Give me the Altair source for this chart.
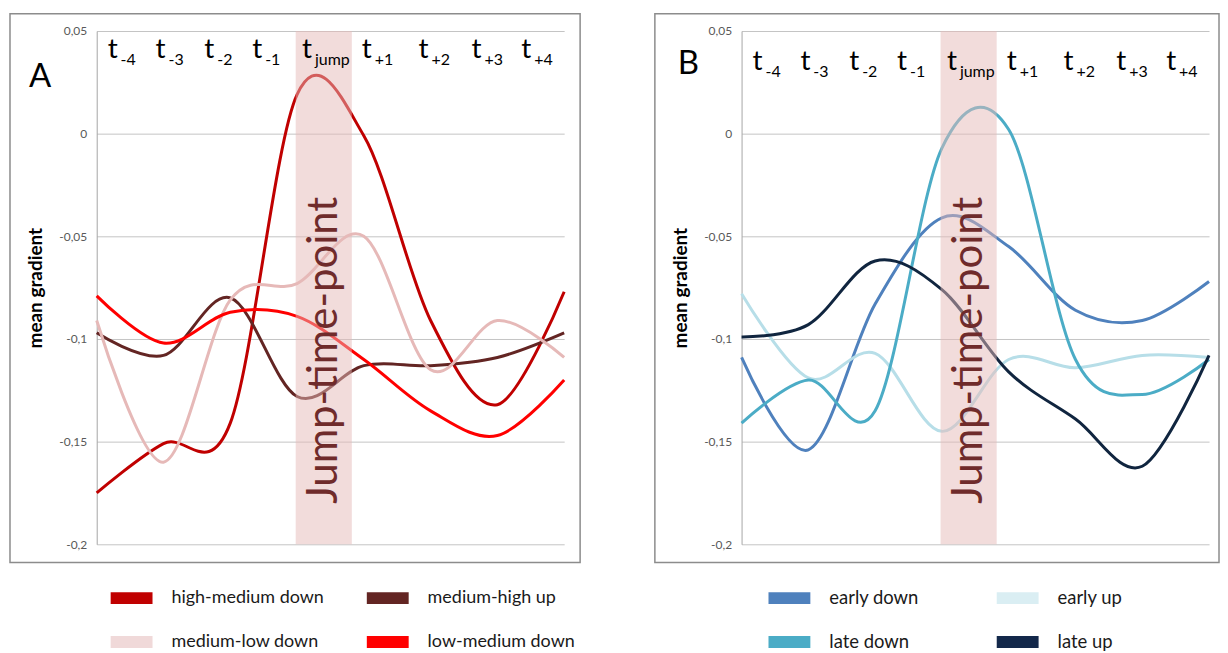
import altair as alt
import pandas as pd

# ---------------- data ----------------
t_idx = [0, 1, 2, 3, 4, 5, 6, 7]

a_names = ["high-medium down", "medium-high up", "medium-low down", "low-medium down"]
a_colors = ["#C00000", "#632523", "#E6B9B8", "#FF0000"]
a_legend_colors = ["#C00000", "#632523", "#F0D9D9", "#FF0000"]
high_medium_down = [-0.175, -0.151, -0.141, 0.019, -0.001, -0.091, -0.132, -0.077]
medium_high_up = [-0.097, -0.108, -0.080, -0.128, -0.113, -0.113, -0.109, -0.097]
medium_low_down = [-0.091, -0.160, -0.081, -0.073, -0.050, -0.115, -0.091, -0.109]
low_medium_down = [-0.079, -0.102, -0.087, -0.089, -0.110, -0.135, -0.147, -0.120]

b_names = ["early down", "early up", "late down", "late up"]
b_colors = ["#4F81BD", "#B7DEE8", "#4BACC6", "#10253F"]
b_legend_colors = ["#4F81BD", "#DAEEF3", "#4BACC6", "#13284A"]
early_down = [-0.109, -0.154, -0.083, -0.041, -0.055, -0.086, -0.091, -0.072]
early_up = [-0.078, -0.119, -0.107, -0.145, -0.110, -0.114, -0.108, -0.109]
late_down = [-0.141, -0.120, -0.135, -0.007, 0.002, -0.110, -0.127, -0.110]
late_up = [-0.099, -0.093, -0.062, -0.076, -0.116, -0.139, -0.162, -0.108]

label_sub = ["-4", "-3", "-2", "-1", "jump", "+1", "+2", "+3", "+4"]
label_x = [0.164, 0.881, 1.612, 2.328, 3.075, 3.97, 4.82, 5.612, 6.358]
band_range = [2.98, 3.82]
band_text = "Jump-time-point"
y_ticks = [0.05, 0, -0.05, -0.1, -0.15, -0.2]

W, H = 469, 515


def panel(names, colors, legend_colors, series, letter, letter_x, letter_y, label_y,
          box_right, leg_cols, leg_font):
    rows = []
    for name, vals in zip(names, series):
        for t, v in zip(t_idx, vals):
            rows.append({"series": name, "t": t, "value": v})
    df = pd.DataFrame(rows)

    xs = alt.Scale(domain=[0, 7], nice=False, zero=False)
    ys = alt.Scale(domain=[-0.2, 0.05], nice=False, zero=False)
    cs = alt.Scale(domain=names, range=colors)
    fs = alt.Scale(domain=names, range=legend_colors)

    lines = alt.Chart(df).mark_line(
        interpolate="cardinal", tension=0, strokeWidth=3
    ).encode(
        x=alt.X("t:Q", axis=None, scale=xs),
        y=alt.Y(
            "value:Q",
            scale=ys,
            axis=alt.Axis(
                values=y_ticks,
                labelExpr="replace(toString(datum.value), '.', ',')",
                title="mean gradient",
                titleFontSize=19,
                titleFontWeight="bold",
                titleColor="#000000",
                titleAngle=270,
                titleAlign="center",
                titleBaseline="middle",
                titleX=-61,
                titleY=H / 2,
                labelFontSize=12,
                labelColor="#595959",
                labelPadding=10,
                ticks=False,
                domainColor="#A6A6A6",
                gridColor="#C4C4C4",
            ),
        ),
        color=alt.Color("series:N", sort=names, scale=cs, legend=None),
    )

    band_df = pd.DataFrame({"x0": [band_range[0]], "x1": [band_range[1]]})
    band = alt.Chart(band_df).mark_rect(color="#E6B9B8", opacity=0.5).encode(
        x=alt.X("x0:Q", scale=xs, axis=None),
        x2="x1:Q",
        y=alt.value(0),
        y2=alt.value(H),
    )

    txt_df = pd.DataFrame(
        {"x": [(band_range[0] + band_range[1]) / 2], "y": [-0.1055], "label": [band_text]}
    )
    band_label = alt.Chart(txt_df).mark_text(
        angle=270, fontSize=42, color="#6f2b2b", align="center", baseline="middle"
    ).encode(
        x=alt.X("x:Q", scale=xs, axis=None),
        y=alt.Y("y:Q", scale=ys),
        text="label:N",
    )

    lab_df = pd.DataFrame(
        {"x": label_x, "sub": label_sub, "main": ["t"] * len(label_x), "y": [label_y] * len(label_x)}
    )
    t_main = alt.Chart(lab_df).mark_text(
        align="left", baseline="alphabetic", fontSize=28, color="#000000"
    ).encode(x=alt.X("x:Q", scale=xs, axis=None), y=alt.Y("y:Q", scale=ys), text="main:N")
    t_sub = alt.Chart(lab_df).mark_text(
        align="left", baseline="alphabetic", fontSize=16, color="#000000", dx=13, dy=7
    ).encode(x=alt.X("x:Q", scale=xs, axis=None), y=alt.Y("y:Q", scale=ys), text="sub:N")

    one = pd.DataFrame({"k": [0]})
    letter_mark = alt.Chart(one).mark_text(
        text=letter, fontSize=33, align="left", baseline="alphabetic", color="#000000"
    ).encode(x=alt.value(letter_x), y=alt.value(letter_y))

    box = alt.Chart(one).mark_rect(
        fillOpacity=0, stroke="#8c8c8c", strokeWidth=1.5
    ).encode(
        x=alt.value(-87), x2=alt.value(box_right), y=alt.value(-17.3), y2=alt.value(533.3)
    )

    # legend: swatch + label per series, coloured through a fill scale
    legend_layers = []
    row_y = [569, 613]
    for i, name in enumerate(names):
        r, c = divmod(i, 2)
        sx = leg_cols[c]
        ent = pd.DataFrame({"series": [name]})
        sw = alt.Chart(ent).mark_rect().encode(
            x=alt.value(sx), x2=alt.value(sx + 42),
            y=alt.value(row_y[r] - 6), y2=alt.value(row_y[r] + 6),
            fill=alt.Fill("series:N", sort=names, scale=fs, legend=None),
        )
        tx = alt.Chart(ent).mark_text(
            align="left", baseline="middle", fontSize=leg_font, color="#1a1a1a"
        ).encode(x=alt.value(sx + 61), y=alt.value(row_y[r]), text="series:N")
        legend_layers += [sw, tx]

    return alt.layer(box, lines, band, band_label, t_main, t_sub, letter_mark,
                     *legend_layers).properties(width=W, height=H)


pa = panel(a_names, a_colors, a_legend_colors,
           [high_medium_down, medium_high_up, medium_low_down, low_medium_down],
           "A", -68, 56, 0.0369, 485, [14, 271], 18)
pb = panel(b_names, b_colors, b_legend_colors,
           [early_down, early_up, late_down, late_up],
           "B", -64, 43, 0.0309, 479, [27, 256], 18.5)

chart = alt.hconcat(pa, pb, spacing=73).resolve_scale(
    color="independent", fill="independent"
).properties(
    padding={"left": 1, "top": 3, "right": 0, "bottom": 0}
).configure(font="Lato").configure_view(strokeWidth=0)

chart.save("out.html", embed_options={"renderer": "svg", "actions": False})
